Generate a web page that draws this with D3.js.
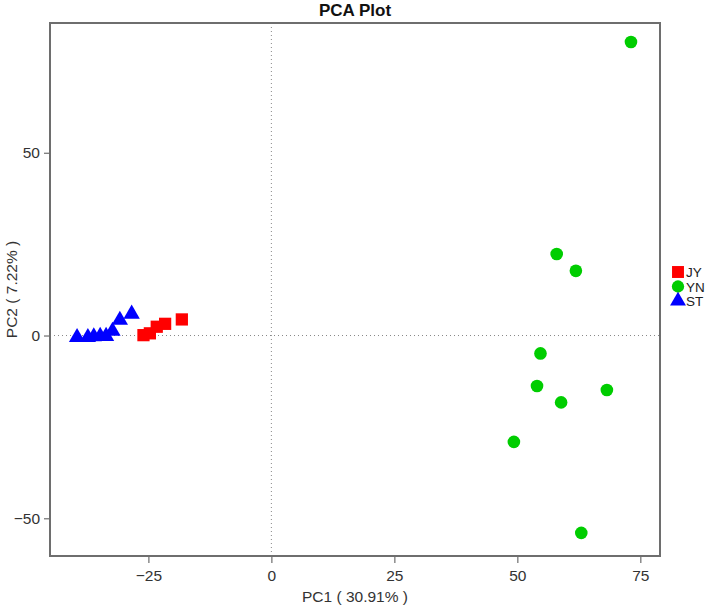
<!DOCTYPE html>
<html>
<head>
<meta charset="utf-8">
<script src="https://cdn.jsdelivr.net/npm/d3@7"></script>
<style>
  html, body { margin: 0; padding: 0; background: #fff; }
  svg { display: block; font-family: "Liberation Sans", Arial, sans-serif; }
</style>
</head>
<body>
<svg id="chart" width="709" height="605"></svg>
<script>
// ---- data ----
const groups = ["JY", "YN", "ST"];
const groupColors = ["#FF0000", "#00CD00", "#0000FF"];
const groupShapes = ["square", "circle", "triangle"];

const jyPC1 = [-26.0, -24.7, -23.3, -21.6, -18.2];
const jyPC2 = [0.1, 0.6, 2.4, 3.2, 4.4];

const ynPC1 = [73.1, 58.0, 61.9, 54.7, 54.0, 68.2, 58.9, 49.3, 63.0];
const ynPC2 = [80.3, 22.3, 17.7, -4.9, -13.8, -14.9, -18.3, -29.1, -54.0];

const stPC1 = [-39.5, -37.3, -36.1, -34.8, -33.6, -32.3, -30.8, -28.4];
const stPC2 = [-0.5, -0.5, -0.3, -0.2, -0.2, 1.2, 4.2, 5.9];

const xTicks = [-25, 0, 25, 50, 75];
const yTicks = [-50, 0, 50];
const titleText = "PCA Plot";
const xLabel = "PC1 ( 30.91% )";
const yLabel = "PC2 ( 7.22% )";

// ---- layout ----
const svg = d3.select("#chart");
const L = 50, R = 660, T = 23, B = 556;
const x = d3.scaleLinear().domain([-45, 79]).range([L, R]);
const y = d3.scaleLinear().domain([-60.32, 85.5]).range([B, T]);

const axisColor = "#6e6e6e";
const textColor = "#333333";

// reference lines
svg.append("line")
  .attr("x1", x(0)).attr("x2", x(0)).attr("y1", T).attr("y2", B)
  .attr("stroke", "#888").attr("stroke-width", 1).attr("stroke-dasharray", "1,3");
svg.append("line")
  .attr("x1", L).attr("x2", R).attr("y1", y(0)).attr("y2", y(0))
  .attr("stroke", "#888").attr("stroke-width", 1).attr("stroke-dasharray", "1,3");

const fmt = d => d < 0 ? "\u2212" + Math.abs(d) : d;

// axes
const xAxis = d3.axisBottom(x).tickValues(xTicks).tickSize(7).tickPadding(7).tickFormat(fmt);
const gx = svg.append("g").attr("transform", `translate(0,${B})`).call(xAxis);
gx.select(".domain").remove();
gx.selectAll(".tick line").attr("stroke", axisColor).attr("stroke-width", 1.2);
gx.selectAll(".tick text").attr("fill", textColor).attr("font-size", 15.5)
  .attr("font-family", "'Liberation Sans', Arial, sans-serif");

const yAxis = d3.axisLeft(y).tickValues(yTicks).tickSize(6).tickPadding(4).tickFormat(fmt);
const gy = svg.append("g").attr("transform", `translate(${L},0)`).call(yAxis);
gy.select(".domain").remove();
gy.selectAll(".tick line").attr("stroke", axisColor).attr("stroke-width", 1.2);
gy.selectAll(".tick text").attr("fill", textColor).attr("font-size", 15.5)
  .attr("font-family", "'Liberation Sans', Arial, sans-serif");

// box
svg.append("rect")
  .attr("x", L).attr("y", T).attr("width", R - L).attr("height", B - T)
  .attr("fill", "none").attr("stroke", axisColor).attr("stroke-width", 2);

// symbols
const symType = { square: d3.symbolSquare, circle: d3.symbolCircle, triangle: d3.symbolTriangle };
const symSize = { square: 150, circle: 125, triangle: 115 };
function sym(shape, scale) {
  return d3.symbol().type(symType[shape]).size(symSize[shape] * (scale || 1))();
}

const series = [
  { g: 0, xs: jyPC1, ys: jyPC2 },
  { g: 1, xs: ynPC1, ys: ynPC2 },
  { g: 2, xs: stPC1, ys: stPC2 }
];
series.forEach(s => {
  const pts = s.xs.map((v, i) => [v, s.ys[i]]);
  svg.append("g").selectAll("path").data(pts).join("path")
    .attr("d", sym(groupShapes[s.g]))
    .attr("transform", d => `translate(${x(d[0])},${y(d[1])})`)
    .attr("fill", groupColors[s.g]);
});

// title & labels
svg.append("text").attr("x", (L + R) / 2).attr("y", 16)
  .attr("text-anchor", "middle").attr("font-size", 17).attr("font-weight", "bold")
  .attr("fill", "#111").text(titleText);
svg.append("text").attr("x", (L + R) / 2).attr("y", 602)
  .attr("text-anchor", "middle").attr("font-size", 15.5).attr("fill", textColor).text(xLabel);
svg.append("text").attr("transform", `translate(17,${(T + B) / 2}) rotate(-90)`)
  .attr("text-anchor", "middle").attr("font-size", 15.5).attr("fill", textColor).text(yLabel);

// legend
const lg = svg.append("g").attr("transform", "translate(678,272)");
groups.forEach((name, i) => {
  const row = lg.append("g").attr("transform", `translate(0,${i * 14.5})`);
  row.append("path").attr("d", sym(groupShapes[i], 0.95)).attr("fill", groupColors[i]);
  row.append("text").attr("x", 8).attr("y", 5).attr("font-size", 13.5)
    .attr("fill", "#222").text(name);
});
</script>
</body>
</html>
